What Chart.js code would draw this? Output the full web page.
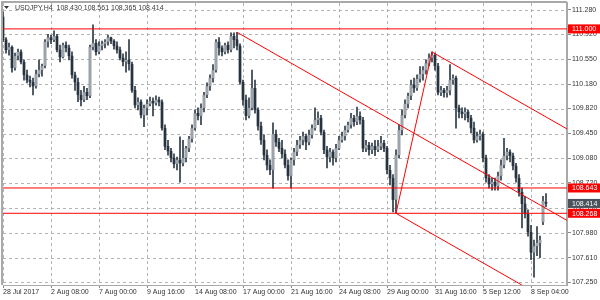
<!DOCTYPE html>
<html>
<head>
<meta charset="UTF-8">
<title>USDJPY,H4</title>
<style>
  html, body { margin: 0; padding: 0; background: #fff; }
  canvas { display: block; }
</style>
</head>
<body>
<canvas id="chart" width="600" height="300"></canvas>
<script src="https://cdn.jsdelivr.net/npm/chart.js@4"></script>
<script>
// USDJPY H4 bars, 28 Jul - 11 Sep 2017
const symbolTitle = 'USDJPY,H4';
const opens = [
  111.18,110.84,110.69,110.73,110.42,110.60,110.66,110.51,110.32,110.24,
  110.21,110.15,110.33,110.39,110.45,110.81,110.87,110.84,110.89,110.69,
  110.58,110.76,110.72,110.60,110.32,110.21,110.02,109.95,110.06,110.01,
  110.73,110.79,110.66,110.75,110.78,110.81,110.87,110.82,110.75,110.69,
  110.57,110.51,110.54,110.48,110.09,109.87,109.92,109.72,109.83,109.89,
  109.93,109.90,109.95,109.92,109.53,109.26,109.19,109.09,109.00,109.06,
  109.01,109.09,109.23,109.37,109.53,109.75,109.71,109.83,110.02,110.15,
  110.27,110.39,110.81,110.72,110.66,110.76,110.69,110.89,110.84,110.75,
  110.21,109.95,109.71,109.83,110.12,109.80,109.56,109.35,109.13,108.98,
  108.91,109.44,109.32,109.23,109.15,108.98,108.82,109.06,109.18,109.28,
  109.35,109.41,109.32,109.43,109.53,109.65,109.68,109.47,109.21,109.10,
  109.18,109.09,109.23,109.35,109.41,109.50,109.58,109.68,109.62,109.71,
  109.65,109.23,109.28,109.21,109.26,109.21,109.26,109.31,109.23,108.91,
  108.79,108.47,109.13,109.50,109.72,109.89,110.01,110.17,110.12,110.26,
  110.33,110.39,110.49,110.57,110.61,110.45,110.06,110.09,110.05,110.09,
  110.24,110.27,109.83,109.77,109.74,109.77,109.68,109.53,109.35,109.41,
  109.44,109.09,108.79,108.70,108.73,108.67,108.82,108.98,109.12,109.18,
  109.12,108.97,108.79,108.58,108.41,108.26,107.99,107.69,107.78,107.83,
  108.14,108.430
];
const highs = [
  111.25,110.87,110.79,110.75,110.64,110.70,110.69,110.54,110.39,110.30,
  110.27,110.39,110.54,110.48,110.84,110.92,110.91,110.97,110.92,110.76,
  110.79,110.81,110.76,110.66,110.36,110.27,110.09,110.15,110.12,110.76,
  111.06,110.84,110.81,110.82,110.84,110.91,110.88,110.84,110.81,110.73,
  110.63,110.66,110.84,110.51,110.15,109.98,109.95,109.87,109.95,109.99,
  109.98,110.01,109.99,109.95,109.58,109.35,109.23,109.15,109.10,109.40,
  109.35,109.26,109.41,109.58,109.80,109.83,109.89,110.06,110.20,110.32,
  110.47,110.84,110.87,110.75,110.79,110.81,110.94,110.94,110.95,110.78,
  110.24,110.02,109.98,110.39,110.24,109.83,109.62,109.43,109.21,109.06,
  109.61,109.50,109.38,109.35,109.21,109.06,109.09,109.23,109.35,109.41,
  109.47,109.44,109.50,109.58,109.83,109.77,109.72,109.50,109.26,109.23,
  109.21,109.29,109.41,109.47,109.56,109.62,109.75,109.72,109.84,109.77,
  109.69,109.35,109.32,109.31,109.35,109.35,109.41,109.35,109.26,108.98,
  108.84,109.21,109.58,109.80,109.95,110.05,110.24,110.27,110.32,110.44,
  110.44,110.54,110.63,110.66,110.64,110.49,110.15,110.12,110.15,110.47,
  110.32,110.30,109.87,109.83,109.83,109.80,109.72,109.62,109.47,109.50,
  109.47,109.13,108.84,108.79,108.79,108.88,109.06,109.38,109.23,109.21,
  109.16,109.01,108.84,108.64,108.52,108.32,108.09,107.87,108.07,107.93,
  108.52,108.561
];
const lows = [
  110.81,110.64,110.61,110.36,110.39,110.54,110.48,110.24,110.20,110.14,
  110.02,110.12,110.29,110.30,110.42,110.73,110.78,110.81,110.66,110.51,
  110.57,110.66,110.54,110.27,110.09,109.92,109.86,109.92,109.95,109.98,
  110.69,110.61,110.63,110.69,110.72,110.76,110.78,110.70,110.64,110.54,
  110.45,110.36,110.39,110.06,109.83,109.80,109.68,109.55,109.72,109.86,
  109.71,109.87,109.86,109.50,109.21,109.13,109.03,108.94,108.91,108.73,
  108.97,109.03,109.18,109.32,109.50,109.65,109.58,109.77,109.98,110.09,
  110.21,110.36,110.61,110.60,110.63,110.64,110.66,110.72,110.69,110.18,
  109.87,109.65,109.68,109.80,109.75,109.50,109.29,109.06,108.91,108.84,
  108.64,109.26,109.18,109.09,108.94,108.76,108.64,108.98,109.12,109.23,
  109.28,109.21,109.28,109.38,109.50,109.58,109.43,109.15,108.94,109.03,
  108.98,109.03,109.21,109.32,109.35,109.47,109.53,109.56,109.58,109.59,
  109.18,109.18,109.13,109.15,109.12,109.18,109.21,109.18,108.85,108.69,
  108.29,108.27,109.09,109.43,109.68,109.83,109.95,110.06,110.09,110.21,
  110.24,110.33,110.45,110.51,110.39,110.02,110.01,109.99,109.99,110.02,
  110.18,109.53,109.68,109.68,109.65,109.62,109.46,109.31,109.32,109.35,
  109.03,108.73,108.64,108.61,108.61,108.61,108.76,108.94,109.06,109.03,
  108.91,108.73,108.52,108.05,108.20,107.93,107.58,107.32,107.64,107.61,
  108.10,108.365
];
const closes = [
  110.84,110.69,110.73,110.42,110.60,110.66,110.51,110.32,110.24,110.21,
  110.15,110.33,110.39,110.45,110.81,110.87,110.84,110.89,110.69,110.58,
  110.76,110.72,110.60,110.32,110.21,110.02,109.95,110.06,110.01,110.73,
  110.79,110.66,110.75,110.78,110.81,110.87,110.82,110.75,110.69,110.57,
  110.51,110.54,110.48,110.09,109.87,109.92,109.72,109.83,109.89,109.93,
  109.90,109.95,109.92,109.53,109.26,109.19,109.09,109.00,109.06,109.01,
  109.09,109.23,109.37,109.53,109.75,109.71,109.83,110.02,110.15,110.27,
  110.39,110.81,110.72,110.66,110.76,110.69,110.89,110.84,110.75,110.21,
  109.95,109.71,109.83,110.12,109.80,109.56,109.35,109.13,108.98,108.91,
  109.44,109.32,109.23,109.15,108.98,108.82,109.06,109.18,109.28,109.35,
  109.41,109.32,109.43,109.53,109.65,109.68,109.47,109.21,109.10,109.18,
  109.09,109.23,109.35,109.41,109.50,109.58,109.68,109.62,109.71,109.65,
  109.23,109.28,109.21,109.26,109.21,109.26,109.31,109.23,108.91,108.79,
  108.47,109.13,109.50,109.72,109.89,110.01,110.17,110.12,110.26,110.33,
  110.39,110.49,110.57,110.61,110.45,110.06,110.09,110.05,110.09,110.24,
  110.27,109.83,109.77,109.74,109.77,109.68,109.53,109.35,109.41,109.44,
  109.09,108.79,108.70,108.73,108.67,108.82,108.98,109.12,109.18,109.12,
  108.97,108.79,108.58,108.41,108.26,107.99,107.69,107.78,107.83,107.87,
  108.45,108.414
];

// time axis: one label every 16 bars
const xTickIdx = [0, 16, 32, 48, 64, 80, 96, 112, 128, 144, 160, 176];
const xTickLabels = ['28 Jul 2017', '2 Aug 08:00', '7 Aug 00:00', '9 Aug 16:00', '14 Aug 08:00', '17 Aug 00:00',
  '21 Aug 16:00', '24 Aug 08:00', '29 Aug 00:00', '31 Aug 16:00', '5 Sep 12:00', '8 Sep 04:00'];
const yTicks = [107.25, 107.61, 107.98, 108.35, 108.72, 109.08, 109.45, 109.82, 110.18, 110.55, 110.92, 111.28];

// drawn objects: horizontal levels and the channel
const levels = [111.000, 108.643, 108.268];
const lastPrice = 108.414;
const lineMain = [[78, 110.95], [188, 108.163]];
const lineUpper = [[143, 110.658], [188, 109.518]];
const lineLower = [[131, 108.268], [188, 106.824]];
const lineRise = [[131, 108.268], [143, 110.658]];

const FONT = "'Liberation Sans', Arial, sans-serif";
const bull = '#9da3a9', bear = '#27333f', wick = '#2f3b48', red = '#ff0000';

const toPts = arr => arr.map(p => ({x: p[0], y: p[1]}));
const redLine = pts => ({type: 'line', data: pts, borderColor: red, borderWidth: 1, pointRadius: 0, order: 0});

const datasets = [];
datasets.push({
  type: 'bar', data: opens.map((o, i) => ({x: i, y: [lows[i], highs[i]]})),
  backgroundColor: wick, barThickness: 1, grouped: false, order: 2
});
datasets.push({
  type: 'bar', data: opens.map((o, i) => ({x: i, y: [o, closes[i]]})),
  backgroundColor: opens.map((o, i) => closes[i] >= o ? bull : bear),
  borderColor: opens.map((o, i) => closes[i] >= o ? '#6e767f' : bear),
  borderWidth: 0.5, borderSkipped: false,
  barThickness: 2.5, minBarLength: 1, grouped: false, order: 1
});
levels.forEach(v => datasets.push(redLine([{x: 0, y: v}, {x: 188, y: v}])));
[lineMain, lineUpper, lineLower, lineRise].forEach(l => datasets.push(redLine(toPts(l))));

// dotted grid under the candles
const dotGrid = {
  id: 'dotGrid',
  beforeDatasetsDraw(chart) {
    const ctx = chart.ctx, a = chart.chartArea, xs = chart.scales.x, ys = chart.scales.y;
    ctx.save();
    ctx.strokeStyle = '#b4b4b4';
    ctx.lineWidth = 1;
    ctx.setLineDash([3, 3]);
    ctx.beginPath();
    xTickIdx.forEach(v => {
      const x = Math.round(xs.getPixelForValue(v)) + 0.5;
      ctx.moveTo(x, a.top); ctx.lineTo(x, a.bottom);
    });
    yTicks.forEach(v => {
      const y = Math.round(ys.getPixelForValue(v)) + 0.5;
      ctx.moveTo(a.left, y); ctx.lineTo(a.right, y);
    });
    ctx.stroke();
    ctx.restore();
  }
};

// header text, price boxes on the axis, frame
const overlay = {
  id: 'overlay',
  afterDraw(chart) {
    const ctx = chart.ctx, a = chart.chartArea, ys = chart.scales.y;
    ctx.save();
    ctx.strokeStyle = '#a9a9a9';
    ctx.lineWidth = 2;
    ctx.beginPath();
    ctx.moveTo(a.left - 1, a.bottom); ctx.lineTo(a.left - 1, a.top - 1); ctx.lineTo(a.right, a.top - 1);
    ctx.stroke();

    ctx.fillStyle = '#333';
    ctx.beginPath();
    ctx.moveTo(4, 6); ctx.lineTo(9, 6); ctx.lineTo(6.5, 9); ctx.closePath(); ctx.fill();
    ctx.font = '7px ' + FONT;
    ctx.textBaseline = 'middle';
    ctx.fillStyle = '#3a3a3a';
    const ohlc = [opens, highs, lows, closes].map(s => s[s.length - 1].toFixed(3)).join(' ');
    ctx.fillText(symbolTitle + '  ' + ohlc, 15, 8.5);

    const box = (v, bg) => {
      const y = ys.getPixelForValue(v);
      ctx.fillStyle = bg;
      ctx.fillRect(a.right + 1, y - 4.5, 600 - a.right - 1, 9);
      ctx.fillStyle = '#fff';
      ctx.fillText(v.toFixed(3), a.right + 5, y + 0.5);
    };
    levels.forEach(v => box(v, red));
    box(lastPrice, '#4a535c');
    ctx.restore();
  }
};

new Chart(document.getElementById('chart'), {
  type: 'bar',
  data: {datasets},
  options: {
    responsive: false,
    animation: false,
    devicePixelRatio: 1,
    layout: {padding: {left: 3, top: 3, right: 0, bottom: 0}},
    plugins: {legend: {display: false}, tooltip: {enabled: false}},
    scales: {
      x: {
        type: 'linear', min: 0, max: 188, offset: false,
        afterBuildTicks: s => { s.ticks = xTickIdx.map(v => ({value: v})); },
        afterFit: s => { s.height = 15; s.paddingLeft = 0; s.paddingRight = 0; },
        ticks: {
          autoSkip: false, maxRotation: 0, minRotation: 0, align: 'start', padding: 0,
          font: {size: 7, family: FONT}, color: '#333',
          callback: v => { const k = xTickIdx.indexOf(v); return k >= 0 ? xTickLabels[k] : ''; }
        },
        grid: {offset: false, drawOnChartArea: false, tickColor: '#8a8a8a', tickLength: 3},
        border: {color: '#a9a9a9', width: 1}
      },
      y: {
        type: 'linear', position: 'right', offset: false,
        min: 107.2056, max: 111.3837,
        afterBuildTicks: s => { s.ticks = yTicks.map(v => ({value: v})); },
        afterFit: s => { s.width = 33; s.paddingTop = 0; s.paddingBottom = 0; },
        ticks: {
          crossAlign: 'near', padding: 1,
          font: {size: 7, family: FONT}, color: '#333',
          callback: v => v.toFixed(3)
        },
        grid: {drawOnChartArea: false, tickColor: '#8a8a8a', tickLength: 4},
        border: {color: '#a9a9a9', width: 2}
      }
    }
  },
  plugins: [dotGrid, overlay]
});
</script>
</body>
</html>
